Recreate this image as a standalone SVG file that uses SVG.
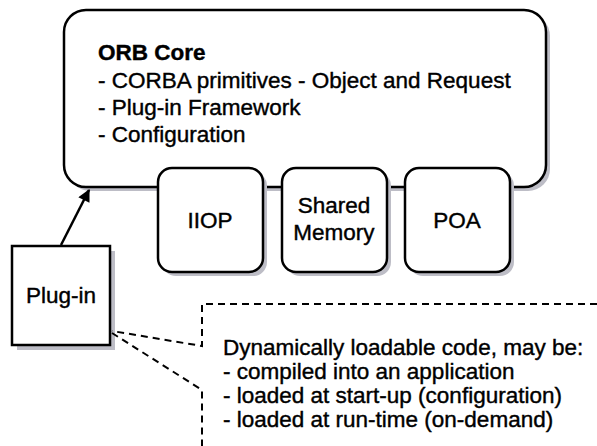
<svg xmlns="http://www.w3.org/2000/svg" width="597" height="446" viewBox="0 0 597 446">
  <defs>
    <marker id="arrow" viewBox="0 0 10 10" refX="9" refY="5" markerWidth="6.5" markerHeight="5" orient="auto" markerUnits="strokeWidth">
      <path d="M0,0 L10,5 L0,10 z" fill="#000"/>
    </marker>
  </defs>
  <style>
    .box { fill: #fff; stroke: #000; stroke-width: 2.5; }
    .shadow { fill: #bdbdc6; }
    .txt { font-family: "Liberation Sans", Arial, sans-serif; font-size: 22.5px; fill: #000; stroke: #000; stroke-width: 0.4; }
    .bold { font-weight: bold; }
    .mid { text-anchor: middle; }
    .dash { fill: none; stroke: #000; stroke-width: 2; stroke-dasharray: 7 5; }
  </style>
  <rect width="597" height="446" fill="#fff"/>

  <g id="orb-core">
    <rect class="shadow" x="68" y="14" width="482" height="177" rx="22"/>
    <rect class="box" x="64" y="10" width="482" height="177" rx="22"/>
    <text class="txt bold" x="98" y="60">ORB Core</text>
    <text class="txt" x="98" y="88">- CORBA primitives - Object and Request</text>
    <text class="txt" x="98" y="115">- Plug-in Framework</text>
    <text class="txt" x="98" y="142">- Configuration</text>
  </g>

  <g id="iiop">
    <rect class="shadow" x="162" y="172" width="105" height="104" rx="14"/>
    <rect class="box" x="158" y="168" width="105" height="104" rx="14"/>
    <text class="txt mid" x="210" y="228">IIOP</text>
  </g>

  <g id="shared-memory">
    <rect class="shadow" x="286" y="172" width="105" height="104" rx="14"/>
    <rect class="box" x="282" y="168" width="105" height="104" rx="14"/>
    <text class="txt mid" x="334" y="213">Shared</text>
    <text class="txt mid" x="334" y="240">Memory</text>
  </g>

  <g id="poa">
    <rect class="shadow" x="409" y="172" width="105" height="104" rx="14"/>
    <rect class="box" x="405" y="168" width="105" height="104" rx="14"/>
    <text class="txt mid" x="457" y="228">POA</text>
  </g>

  <g id="plug-in">
    <rect class="shadow" x="17" y="251" width="98" height="99"/>
    <rect class="box" x="12" y="246" width="98" height="99"/>
    <text class="txt mid" x="61" y="303">Plug-in</text>
  </g>

  <g id="note">
    <text class="txt" x="223" y="355">Dynamically loadable code, may be:</text>
    <text class="txt" x="223" y="379">- compiled into an application</text>
    <text class="txt" x="223" y="403">- loaded at start-up (configuration)</text>
    <text class="txt" x="223" y="427">- loaded at run-time (on-demand)</text>
  </g>

  <g id="connectors">
    <line x1="61" y1="245" x2="89" y2="190" stroke="#000" stroke-width="2.5" marker-end="url(#arrow)"/>
    <path class="dash" d="M597,304 H202 V346 L112,331"/>
    <path class="dash" d="M112,333 L202,390 V446"/>
  </g>
</svg>
